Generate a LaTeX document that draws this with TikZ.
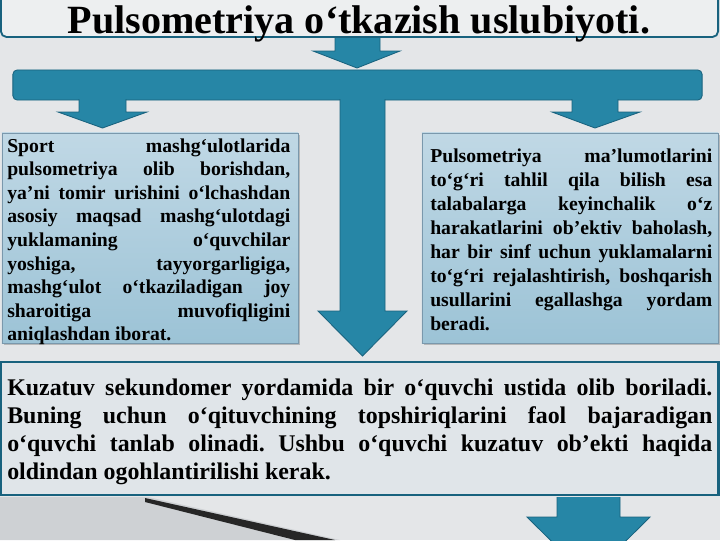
\documentclass[tikz,border=0pt]{standalone}
\usepackage{fontspec}
\setmainfont{Liberation Serif}
\usetikzlibrary{positioning,shadows}
\definecolor{slidebg}{RGB}{228,230,232}
\definecolor{slideshade}{RGB}{206,209,212}
\definecolor{tealfill}{RGB}{38,134,166}
\definecolor{tealedge}{RGB}{24,98,126}
\definecolor{boxtop}{RGB}{192,216,229}
\definecolor{boxbot}{RGB}{156,195,214}
\definecolor{boxedge}{RGB}{122,152,172}
\definecolor{mainfill}{RGB}{224,229,233}
\definecolor{titlefill}{RGB}{237,239,240}
\hyphenpenalty=10000
\tolerance=9999
\frenchspacing
\tikzset{
titlebox/.style = {draw=tealedge, line width=1.3pt, fill=titlefill, rounded corners=4pt},
titletext/.style = {font=\fontsize{28.5}{32}\selectfont\bfseries, inner sep=0pt},
bar/.style = {draw=tealedge, line width=0.6pt, fill=tealfill, rounded corners=3pt},
blockarrow/.style = {draw=tealedge, line width=0.6pt, fill=tealfill},
sidebox/.style = {draw=boxedge, line width=0.6pt, top color=boxtop, bottom color=boxbot,
  drop shadow={shadow xshift=1.5pt, shadow yshift=-1.5pt, opacity=0.45}},
sidetext/.style = {font=\fontsize{14}{16.8}\selectfont\bfseries, text width=7.075cm,
  align=justify, inner sep=0pt},
mainbox/.style = {draw=tealedge, line width=2pt, fill=mainfill},
maintext/.style = {font=\fontsize{17}{20.1}\selectfont\bfseries, text width=17.625cm,
  align=justify, inner sep=0pt}
}
\begin{document}
\begin{tikzpicture}[x=0.025cm, y=-0.025cm]
  \useasboundingbox[fill=slidebg] (0,0) rectangle (720,540);
  \fill[slideshade] (0,497) -- (148,497) -- (340,540) -- (0,540) -- cycle;
  \fill[black!85] (145,498) -- (335,540) -- (295,540) -- (145,502) -- cycle;

  \node[titlebox, minimum width=17.925cm, minimum height=1.075cm] (titlebox) at (359.5,15.5) {};
  \node[titletext, anchor=base] (title) at (359,33) {Pulsometriya o‘tkazish uslubiyoti.};
  \filldraw[blockarrow] (335,38) -- (335,51) -- (313,51) -- (357,68) -- (400,51) -- (380,51) -- (380,38);

  \node[bar, minimum width=17.225cm, minimum height=0.75cm] (bar) at (357.5,85) {};
  \filldraw[blockarrow] (79,99) -- (79,112) -- (58,112) -- (102.5,128) -- (147,112) -- (126,112) -- (126,99);
  \filldraw[blockarrow] (572,99) -- (572,112) -- (552,112) -- (595,128) -- (640,112) -- (618,112) -- (618,99);
  \filldraw[blockarrow] (340,99) -- (340,311) -- (318,311) -- (362.5,356) -- (407,311) -- (385,311) -- (385,99);

  \node[sidebox, minimum width=7.4cm, minimum height=5.25cm] (leftbox) at (150,238) {};
  \node[sidebox, minimum width=7.4cm, minimum height=5.25cm] (rightbox) at (570,238) {};
  \node[sidetext, anchor=base west] (lefttext) at (7,152) {Sport mashg‘ulotlarida\linebreak
    pulsometriya olib borishdan,\linebreak
    ya’ni tomir urishini o‘lchashdan\linebreak
    asosiy maqsad mashg‘ulotdagi\linebreak
    yuklamaning o‘quvchilar\linebreak
    yoshiga, tayyorgarligiga,\linebreak
    mashg‘ulot o‘tkaziladigan joy\linebreak
    sharoitiga muvofiqligini\linebreak
    aniqlashdan iborat.};
  \node[sidetext, text width=7.05cm, font=\fontsize{14}{17.1}\selectfont\bfseries, anchor=base west] (righttext) at (430,162) {Pulsometriya ma’lumotlarini\linebreak
    to‘g‘ri tahlil qila bilish esa\linebreak
    talabalarga keyinchalik o‘z\linebreak
    harakatlarini ob’ektiv baholash,\linebreak
    har bir sinf uchun yuklamalarni\linebreak
    to‘g‘ri rejalashtirish, boshqarish\linebreak
    usullarini egallashga yordam\linebreak
    beradi.};

  \node[mainbox, minimum width=17.925cm, minimum height=3.325cm] (mainbox) at (359.5,428.5) {};
  \node[maintext, anchor=base west] (maintext) at (7,395) {Kuzatuv sekundomer yordamida bir o‘quvchi ustida olib boriladi.\linebreak
    Buning uchun o‘qituvchining topshiriqlarini faol bajaradigan\linebreak
    o‘quvchi tanlab olinadi. Ushbu o‘quvchi kuzatuv ob’ekti haqida\linebreak
    oldindan ogohlantirilishi kerak.};
  \filldraw[blockarrow] (557,497) -- (557,517) -- (527,517) -- (588.5,578) -- (650,517) -- (620,517) -- (620,497);
\end{tikzpicture}
\end{document}
